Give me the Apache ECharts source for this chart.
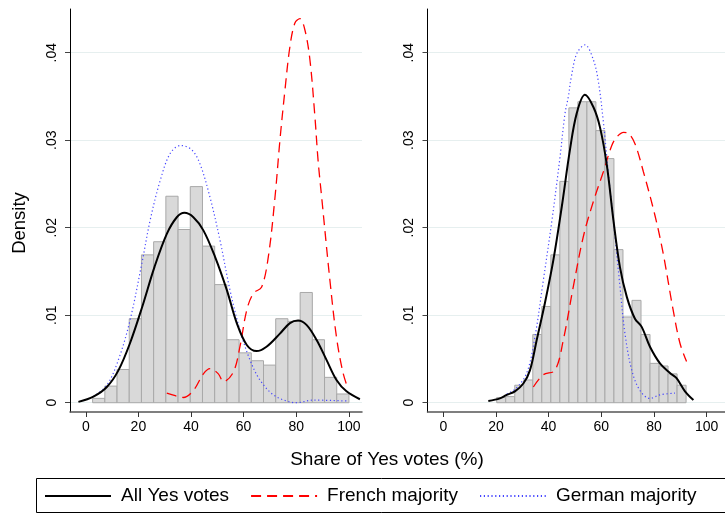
<!DOCTYPE html>
<html>
<head>
<meta charset="utf-8">
<script src="https://cdn.jsdelivr.net/npm/echarts@6/dist/echarts.min.js"></script>
<style>html,body{margin:0;padding:0;background:#fff}#c{width:725px;height:521px}</style>
</head>
<body>
<div id="c"></div>
<script>
// ---------- data ----------
var xTicks = [0, 20, 40, 60, 80, 100];
var yTicks = [0, 0.01, 0.02, 0.03, 0.04];
var seriesNames = ['All Yes votes', 'French majority', 'German majority'];

// Left panel histogram
var leftBinEdges = [2.6, 7.24, 11.88, 16.52, 21.16, 25.8, 30.44, 35.08, 39.72, 44.36, 49.0, 53.64, 58.28, 62.92, 67.56, 72.2, 76.84, 81.48, 86.12, 90.76, 95.4, 100.04];
var leftHeights = [0.0005, 0.0019, 0.0038, 0.0096, 0.0169, 0.0184, 0.0236, 0.0198, 0.0247, 0.0179, 0.0135, 0.0072, 0.0057, 0.0048, 0.0043, 0.0096, 0.0093, 0.0126, 0.0072, 0.0029, 0.0010];

// Right panel histogram
var rightBinEdges = [20.3, 23.72, 27.15, 30.57, 34.0, 37.42, 40.85, 44.27, 47.7, 51.12, 54.55, 57.97, 61.4, 64.82, 68.25, 71.67, 75.1, 78.52, 81.95, 85.37, 88.8, 92.22];
var rightHeights = [0.0006, 0.0007, 0.0020, 0.0026, 0.0078, 0.0110, 0.0169, 0.0253, 0.0337, 0.0344, 0.0344, 0.0311, 0.0279, 0.0175, 0.0098, 0.0117, 0.0078, 0.0045, 0.0042, 0.0033, 0.0020];

// Left panel density curves
var leftAll = [[-2.8,0.0001],[2.9,0.0007],[8.0,0.0018],[12.4,0.0037],[16.8,0.0068],[21.5,0.0110],[26.1,0.0155],[30.8,0.0193],[34.6,0.0212],[37.5,0.0217],[40.9,0.0212],[44.7,0.0197],[49.1,0.0167],[53.6,0.0129],[57.4,0.0091],[61.2,0.0066],[64.9,0.0059],[68.7,0.0064],[73.8,0.0079],[77.6,0.0091],[80.7,0.0094],[83.9,0.0089],[87.7,0.0072],[91.5,0.0049],[95.3,0.0026],[99.1,0.0013],[104.2,0.0004]];
var leftFrench = [[30.8,0.0011],[34.0,0.0008],[37.1,0.0006],[40.9,0.0014],[44.7,0.0033],[47.2,0.0039],[50.4,0.0033],[52.3,0.0024],[56.1,0.0035],[58.6,0.0064],[61.2,0.0106],[63.7,0.0125],[66.8,0.0132],[69.4,0.0167],[71.9,0.0234],[73.8,0.0300],[75.7,0.0357],[77.6,0.0407],[79.5,0.0434],[81.4,0.0439],[83.3,0.0426],[85.2,0.0392],[87.1,0.0327],[88.3,0.0277],[89.7,0.0234],[92.8,0.0140],[95.3,0.0075],[97.8,0.0034],[99.7,0.0016]];
var leftGerman = [[2.9,0.0007],[8.0,0.0020],[12.4,0.0049],[16.8,0.0094],[21.3,0.0159],[24.5,0.0209],[28.3,0.0254],[32.1,0.0285],[36.1,0.0294],[40.3,0.0289],[43.4,0.0273],[47.2,0.0235],[51.0,0.0186],[54.8,0.0129],[58.6,0.0083],[62.4,0.0049],[66.2,0.0026],[71.3,0.0009],[76.3,0.0002],[80.1,0.0000],[86.5,0.0003],[99.1,0.0002]];

// Right panel density curves
var rightAll = [[17.1,0.0002],[21.5,0.0005],[24.1,0.0009],[27.2,0.0013],[30.4,0.0022],[32.9,0.0037],[35.5,0.0072],[38.6,0.0114],[41.8,0.0163],[45.0,0.0224],[48.1,0.0289],[50.7,0.0331],[53.8,0.0352],[57.0,0.0338],[59.5,0.0315],[62.1,0.0272],[64.6,0.0209],[67.1,0.0155],[69.7,0.0121],[72.8,0.0096],[75.3,0.0087],[78.5,0.0064],[82.3,0.0045],[86.1,0.0034],[88.6,0.0028],[91.8,0.0013],[95.0,0.0003]];
var rightFrench = [[34.2,0.0018],[38.0,0.0032],[42.4,0.0037],[45.6,0.0072],[49.4,0.0133],[53.2,0.0190],[57.0,0.0230],[60.8,0.0264],[64.0,0.0294],[66.0,0.0304],[68.5,0.0309],[70.3,0.0308],[72.8,0.0296],[76.0,0.0264],[80.4,0.0214],[83.5,0.0171],[87.3,0.0106],[89.9,0.0068],[92.4,0.0047]];
var rightGerman = [[24.1,0.0010],[27.5,0.0016],[31.7,0.0034],[34.8,0.0075],[38.0,0.0140],[41.2,0.0207],[44.3,0.0280],[46.2,0.0330],[47.5,0.0350],[48.6,0.0372],[50.7,0.0399],[53.8,0.0409],[57.0,0.0392],[58.9,0.0367],[60.8,0.0321],[62.7,0.0262],[64.6,0.0209],[67.1,0.0133],[69.0,0.0079],[71.6,0.0037],[74.7,0.0014],[78.5,0.0005],[82.3,0.0009],[88.0,0.0011]];

// ---------- helpers ----------
function bins(edges, heights) {
  var out = [];
  for (var i = 0; i < heights.length; i++) out.push([edges[i], edges[i + 1], heights[i]]);
  return out;
}
var FONT = "'Liberation Sans', Arial, sans-serif";
function fmtY(v) { return v === 0 ? '0' : String(+v.toFixed(2)).replace(/^0\./, '.'); }

function xAxisCfg(idx, max) {
  return {
    type: 'value', gridIndex: idx, min: -6, max: max,
    axisLine: { show: true, onZero: false, lineStyle: { color: '#555', width: 1.5 } },
    axisTick: { show: true, length: 5, customValues: xTicks, lineStyle: { color: '#333' } },
    axisLabel: { customValues: xTicks, fontSize: 14, color: '#000', fontFamily: FONT, margin: 8 },
    splitLine: { show: false }
  };
}
function yAxisCfg(idx) {
  return {
    type: 'value', gridIndex: idx, min: -0.00106, max: 0.045,
    axisLine: { show: true, onZero: false, lineStyle: { color: '#000', width: 1 } },
    axisTick: { show: true, length: 5, customValues: yTicks, lineStyle: { color: '#444' } },
    axisLabel: { customValues: yTicks, rotate: 90, fontSize: 14, color: '#000', fontFamily: FONT, margin: 11, formatter: fmtY },
    splitLine: { show: true, lineStyle: { color: '#e6efef', width: 1 } }
  };
}
function histSeries(idx, data) {
  return {
    type: 'custom', xAxisIndex: idx, yAxisIndex: idx, silent: true, z: 1,
    encode: { x: [0, 1], y: 2 },
    data: data,
    renderItem: function (params, api) {
      var p0 = api.coord([api.value(0), api.value(2)]);
      var p1 = api.coord([api.value(1), 0]);
      return { type: 'rect', shape: { x: p0[0], y: p0[1], width: p1[0] - p0[0], height: p1[1] - p0[1] },
               style: { fill: '#d9d9d9', stroke: '#a8a8a8', lineWidth: 1 } };
    }
  };
}
var styles = [
  { color: '#000000', width: 2, type: 'solid' },
  { color: '#ff0000', width: 1.3, type: [10, 6] },
  { color: '#4646ff', width: 1.2, type: [1.2, 2.6] }
];
function lineSeries(idx, name, data, st) {
  return {
    type: 'line', name: name, xAxisIndex: idx, yAxisIndex: idx, data: data,
    showSymbol: false, symbol: 'none', smooth: 0.35, z: 3,
    lineStyle: { color: st.color, width: st.width, type: st.type },
    itemStyle: { color: st.color }
  };
}

var chart = echarts.init(document.getElementById('c'), null, { renderer: 'canvas' });
chart.setOption({
  animation: false,
  backgroundColor: '#fff',
  textStyle: { fontFamily: FONT },
  grid: [
    { left: 70, top: 9, width: 292, height: 403 },
    { left: 427.5, top: 9, width: 297.5, height: 403 }
  ],
  xAxis: [xAxisCfg(0, 105), xAxisCfg(1, 107)],
  yAxis: [yAxisCfg(0), yAxisCfg(1)],
  legend: {
    data: seriesNames, left: 44, top: 486, padding: 0, itemWidth: 66, itemHeight: 14, itemGap: 21,
    selectedMode: false,
    itemStyle: { opacity: 0 },
    textStyle: { fontSize: 19, color: '#000', fontFamily: FONT, lineHeight: 20, padding: [0, 0, 0, 5] }
  },
  graphic: [
    { type: 'rect', shape: { x: 36.5, y: 478.5, width: 720, height: 34 }, style: { fill: 'none', stroke: '#000', lineWidth: 1 }, z: -1 },
    { type: 'text', x: 387, y: 460, style: { text: 'Share of Yes votes (%)', fontSize: 19, fontFamily: FONT, fill: '#000', textAlign: 'center', textVerticalAlign: 'middle' } },
    { type: 'text', x: 20, y: 223, rotation: Math.PI / 2, style: { text: 'Density', fontSize: 18.5, fontFamily: FONT, fill: '#000', textAlign: 'center', textVerticalAlign: 'middle' } }
  ],
  series: [
    histSeries(0, bins(leftBinEdges, leftHeights)),
    histSeries(1, bins(rightBinEdges, rightHeights)),
    lineSeries(0, seriesNames[2], leftGerman, styles[2]),
    lineSeries(0, seriesNames[1], leftFrench, styles[1]),
    lineSeries(0, seriesNames[0], leftAll, styles[0]),
    lineSeries(1, seriesNames[2], rightGerman, styles[2]),
    lineSeries(1, seriesNames[1], rightFrench, styles[1]),
    lineSeries(1, seriesNames[0], rightAll, styles[0])
  ]
});
</script>
</body>
</html>
